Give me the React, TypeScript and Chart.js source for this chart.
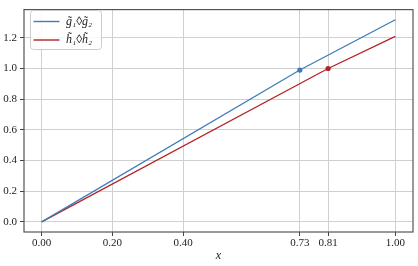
import React, { useEffect, useRef } from "react";
import { Chart, registerables } from "chart.js";

Chart.register(...registerables);

const xTickValues = [0, 0.2, 0.4, 0.73, 0.81, 1.0];
const xTickLabels = ["0.00", "0.20", "0.40", "0.73", "0.81", "1.00"];
const yTickValues = [0, 0.2, 0.4, 0.6, 0.8, 1.0, 1.2];

const gX = [0, 0.73, 1.0];
const gY = [0, 0.99, 1.318];
const hX = [0, 0.81, 1.0];
const hY = [0, 1.0, 1.209];

const gMarker = { x: 0.73, y: 0.99 };
const hMarker = { x: 0.81, y: 1.0 };

const gLabel = "g\u0303\u2081\u25CAg\u0303\u2082";
const hLabel = "h\u0303\u2081\u25CAh\u0303\u2082";

const BLUE = "rgb(62,124,186)";
const RED = "rgb(180,34,38)";
const FONT = "'Liberation Serif', 'DejaVu Serif', serif";

export default function App() {
  const ref = useRef<HTMLCanvasElement | null>(null);

  useEffect(() => {
    document.body.style.margin = "0";
    const canvas = ref.current;
    if (!canvas) return;

    const frameAndLegend = {
      id: "frameAndLegend",
      afterDraw(chart: any) {
        const ctx = chart.ctx;
        const a = chart.chartArea;
        ctx.save();
        ctx.strokeStyle = "#555555";
        ctx.lineWidth = 1.2;
        ctx.strokeRect(a.left, a.top, a.right - a.left, a.bottom - a.top);

        // legend
        const bx = 30.5, by = 10.5, bw = 71, bh = 39;
        ctx.fillStyle = "rgba(255,255,255,0.85)";
        ctx.strokeStyle = "#cccccc";
        ctx.lineWidth = 1;
        ctx.beginPath();
        (ctx as any).roundRect(bx, by, bw, bh, 3);
        ctx.fill();
        ctx.stroke();
        const items = [
          { label: chart.data.datasets[0].label, color: BLUE, y: 21.5 },
          { label: chart.data.datasets[1].label, color: RED, y: 40 },
        ];
        ctx.font = `italic 12px ${FONT}`;
        ctx.textBaseline = "middle";
        ctx.textAlign = "left";
        for (const it of items) {
          ctx.strokeStyle = it.color;
          ctx.lineWidth = 1.4;
          ctx.beginPath();
          ctx.moveTo(33.5, it.y);
          ctx.lineTo(59.5, it.y);
          ctx.stroke();
          ctx.fillStyle = "#222222";
          ctx.fillText(it.label, 66, it.y);
        }
        ctx.restore();
      },
    };

    const chart = new Chart(canvas, {
      type: "line",
      data: {
        datasets: [
          {
            label: gLabel,
            data: gX.map((x, i) => ({ x, y: gY[i] })),
            borderColor: BLUE,
            borderWidth: 1.3,
            pointRadius: 0,
            tension: 0,
          },
          {
            label: hLabel,
            data: hX.map((x, i) => ({ x, y: hY[i] })),
            borderColor: RED,
            borderWidth: 1.3,
            pointRadius: 0,
            tension: 0,
          },
          {
            type: "scatter",
            label: "g marker",
            data: [gMarker],
            backgroundColor: BLUE,
            borderColor: BLUE,
            pointRadius: 2.6,
            borderWidth: 0,
          } as any,
          {
            type: "scatter",
            label: "h marker",
            data: [hMarker],
            backgroundColor: RED,
            borderColor: RED,
            pointRadius: 2.6,
            borderWidth: 0,
          } as any,
        ],
      },
      options: {
        animation: false,
        responsive: false,
        maintainAspectRatio: false,
        layout: { padding: { top: 5, right: 5, left: 0, bottom: 0 } },
        plugins: {
          legend: { display: false },
          tooltip: { enabled: false },
        },
        scales: {
          x: {
            type: "linear",
            min: -0.05,
            max: 1.05,
            afterBuildTicks: (s: any) => {
              s.ticks = xTickValues.map((v) => ({ value: v }));
            },
            afterFit: (s: any) => {
              s.height = 34;
            },
            ticks: {
              autoSkip: false,
              maxRotation: 0,
              padding: 1,
              color: "#222222",
              font: { family: FONT, size: 11 },
              callback: (v: any) => {
                const i = xTickValues.indexOf(Number(v));
                return i >= 0 ? xTickLabels[i] : "";
              },
            },
            grid: {
              color: "#d0d0d0",
              lineWidth: 1,
              tickLength: 4,
              tickColor: "#444444",
            },
            border: { display: false },
            title: {
              display: true,
              text: "x",
              color: "#222222",
              font: { family: FONT, size: 12, style: "italic" },
              padding: { top: 0, bottom: 3 },
            },
          },
          y: {
            type: "linear",
            min: -0.066,
            max: 1.384,
            afterBuildTicks: (s: any) => {
              s.ticks = yTickValues.map((v) => ({ value: v }));
            },
            afterFit: (s: any) => {
              s.width = 24;
            },
            ticks: {
              padding: 3,
              color: "#222222",
              font: { family: FONT, size: 11 },
              callback: (v: any) => Number(v).toFixed(1),
            },
            grid: {
              color: "#d0d0d0",
              lineWidth: 1,
              tickLength: 4,
              tickColor: "#444444",
            },
            border: { display: false },
          },
        },
      },
      plugins: [frameAndLegend],
    } as any);

    return () => chart.destroy();
  }, []);

  return (
    <div style={{ width: 418, height: 266 }}>
      <canvas ref={ref} width={418} height={266} style={{ display: "block" }} />
    </div>
  );
}
